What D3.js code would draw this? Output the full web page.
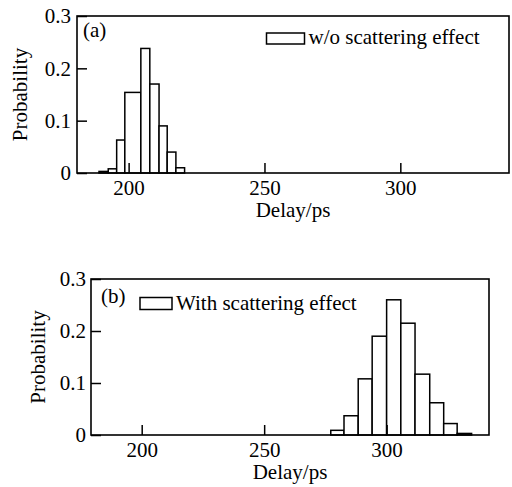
<!DOCTYPE html>
<meta charset="utf-8">
<style>
body { margin: 0; background: #fff; }
svg text { font-family: "Liberation Serif", "Times New Roman", serif; fill: #000; }
.bar { fill: #fff; stroke: #000; stroke-width: 1.5; }
.frame { fill: none; stroke: #000; stroke-width: 1.6; }
.axis path { display: none; }
.axis line { stroke: #000; stroke-width: 1.5; }
.axis text { font-size: 21px; font-family: "Liberation Serif", "Times New Roman", serif; }
</style>
<body>
<div id="chart"></div>
<script src="https://cdn.jsdelivr.net/npm/d3@7"></script>
<script>

// (a) w/o scattering: bin edges (ps) and probabilities
var edgesA = [189.1, 192.5, 195.6, 198.6, 204.5, 207.8, 211.2, 214.2, 217.4, 220.6];
var probA  = [0.003, 0.008, 0.063, 0.154, 0.238, 0.170, 0.090, 0.040, 0.010];

// (b) with scattering
var edgesB = [277.2, 282.6, 288.4, 294.1, 300.0, 305.8, 311.6, 317.6, 323.3, 328.8, 334.7];
var probB  = [0.009, 0.037, 0.108, 0.190, 0.260, 0.215, 0.117, 0.062, 0.022, 0.003];

var xTicks = [200, 250, 300];
var yTicks = [0, 0.1, 0.2, 0.3];
var xLabel = "Delay/ps", yLabel = "Probability";

var svg = d3.select("#chart").append("svg")
    .attr("width", 512)
    .attr("height", 487);

var fmt = function(d) { return d === 0 ? "0" : d3.format(".1f")(d); };

function panel(edges, prob, o) {
  var x = d3.scaleLinear().domain(o.xdom).range([o.left, o.right]);
  var y = d3.scaleLinear().domain([0, 0.3]).range([o.bottom, o.top]);

  var bins = prob.map(function(p, i) { return {x0: edges[i], x1: edges[i + 1], p: p}; });

  svg.append("g").selectAll("rect")
      .data(bins)
    .enter().append("rect")
      .attr("class", "bar")
      .attr("x", function(d) { return x(d.x0); })
      .attr("width", function(d) { return x(d.x1) - x(d.x0); })
      .attr("y", function(d) { return y(d.p); })
      .attr("height", function(d) { return y(0) - y(d.p); });

  svg.append("g")
      .attr("class", "axis")
      .attr("transform", "translate(0," + o.bottom + ")")
      .call(d3.axisBottom(x).tickValues(xTicks).tickSizeInner(-10).tickSizeOuter(0).tickPadding(7))
      .attr("font-family", null).attr("font-size", null);

  svg.append("g")
      .attr("class", "axis")
      .attr("transform", "translate(" + o.left + ",0)")
      .call(d3.axisLeft(y).tickValues(yTicks).tickFormat(fmt).tickSizeInner(-10).tickSizeOuter(0).tickPadding(o.ypad))
      .attr("font-family", null).attr("font-size", null);

  svg.append("rect")
      .attr("class", "frame")
      .attr("x", o.left).attr("y", o.top)
      .attr("width", o.right - o.left)
      .attr("height", o.bottom - o.top);

  svg.append("text")
      .attr("x", (o.left + o.right) / 2)
      .attr("y", o.bottom + 44)
      .attr("text-anchor", "middle")
      .style("font-size", "21px")
      .text(xLabel);

  svg.append("text")
      .attr("transform", "translate(" + o.ylabX + "," + ((o.top + o.bottom) / 2) + ") rotate(-90)")
      .attr("text-anchor", "middle")
      .style("font-size", "21px")
      .text(yLabel);

  svg.append("text")
      .attr("x", o.tagX).attr("y", o.tagY)
      .style("font-size", "21px")
      .text(o.tag);

  // legend
  svg.append("rect")
      .attr("class", "bar")
      .attr("x", o.legX).attr("y", o.legY)
      .attr("width", o.legW).attr("height", o.legH);
  svg.append("text")
      .attr("x", o.legX + o.legW + 4)
      .attr("y", o.legY + o.legH)
      .style("font-size", "21px")
      .text(o.legText);
}

panel(edgesA, probA, {
  xdom: [181, 340], left: 77, right: 509, top: 16, bottom: 173, ypad: 6,
  ylabX: 27, tag: "(a)", tagX: 83, tagY: 37,
  legX: 266.5, legY: 33, legW: 38, legH: 11, legText: "w/o scattering effect"
});

panel(edgesB, probB, {
  xdom: [179.3, 341.8], left: 91, right: 489, top: 279, bottom: 435, ypad: 5,
  ylabX: 45, tag: "(b)", tagX: 101, tagY: 303,
  legX: 140, legY: 297.5, legW: 32, legH: 12, legText: "With scattering effect"
});

</script>
</body>
